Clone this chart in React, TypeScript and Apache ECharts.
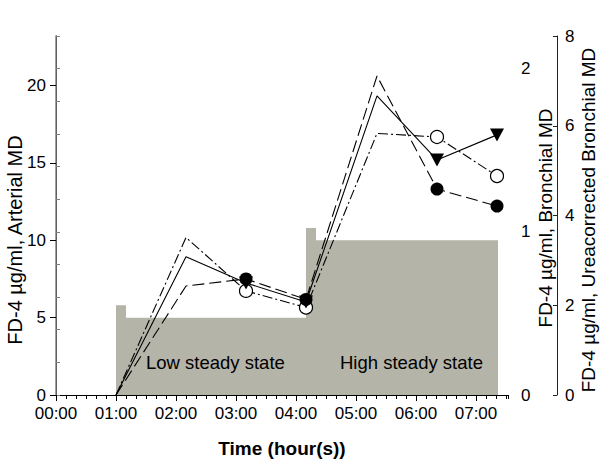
import React, { useEffect, useRef } from "react";
import * as echarts from "echarts";

// time in minutes after start
const sampleTimes = [60, 130, 190, 250, 321, 381, 441];
const arterialMD = [0, 8.94, 7.24, 6.01, 19.33, 15.19, 16.81];
const bronchialMD = [0, 0.668, 0.711, 0.586, 1.955, 1.262, 1.158];
const ureaCorrectedMD = [0, 3.51, 2.32, 1.95, 5.83, 5.75, 4.88];
const markerShown = [false, false, true, true, false, true, true];

const infusionTimes = [60, 60, 70, 70, 250, 250, 260, 260, 442, 442];
const infusionLevels = [0, 5.8, 5.8, 5, 5, 10.8, 10.8, 10, 10, 0];

const hourTicks = [0, 60, 120, 180, 240, 300, 360, 420];
const leftTicks = [0, 5, 10, 15, 20];
const middleLabels = [0, 1, 2];
const middleTicks = [0, 0.2, 0.4, 0.6, 0.8, 1, 1.2, 1.4, 1.6, 1.8, 2, 2.2];
const rightTicks = [0, 2, 4, 6, 8];

const FONT = "Liberation Sans, Arial, sans-serif";

function buildData(values: number[]) {
  return sampleTimes.map((t, i) => ({
    value: [t, values[i]],
    symbolSize: markerShown[i] ? undefined : 0,
  }));
}

function fmtTime(v: number) {
  const h = Math.round(v / 60);
  return (h < 10 ? "0" : "") + h + ":00";
}

export default function App() {
  const ref = useRef<HTMLDivElement>(null);
  useEffect(() => {
    if (!ref.current) return;
    const chart = echarts.init(ref.current, null, { renderer: "svg" });
    const labelStyle = { color: "#000", fontSize: 17, fontFamily: FONT };
    chart.setOption({
      animation: false,
      backgroundColor: "#fff",
      grid: { left: 56, right: 92, top: 36, bottom: 69 },
      xAxis: [
        {
          type: "value",
          min: 0,
          max: 452,
          interval: 60,
          name: "Time (hour(s))",
          nameLocation: "middle",
          nameGap: 44,
          nameTextStyle: { color: "#000", fontSize: 19, fontWeight: "bold", fontFamily: FONT },
          axisLine: { show: true, lineStyle: { color: "#000", width: 1 } },
          axisTick: { show: true, length: 6, lineStyle: { color: "#000" }, customValues: hourTicks },
          axisLabel: { ...labelStyle, margin: 10, formatter: fmtTime, customValues: hourTicks },
          splitLine: { show: false },
        },
        {
          type: "value",
          min: 0,
          max: 452,
          interval: 10,
          position: "bottom",
          axisLine: { show: false },
          axisTick: { show: true, length: 4, lineStyle: { color: "#000" } },
          axisLabel: { show: false },
          splitLine: { show: false },
        },
      ],
      yAxis: [
        {
          type: "value",
          min: 0,
          max: 23.2,
          position: "left",
          axisLine: { show: true, lineStyle: { color: "#000", width: 1 } },
          axisTick: { show: true, length: 6, lineStyle: { color: "#000" }, customValues: leftTicks },
          axisLabel: { ...labelStyle, margin: 10, customValues: leftTicks },
          splitLine: { show: false },
        },
        {
          type: "value",
          min: 0,
          max: 2.2,
          position: "right",
          offset: 0,
          axisLine: { show: true, lineStyle: { color: "#808080", width: 1.5 } },
          axisTick: { show: true, length: 4, lineStyle: { color: "#808080" }, customValues: middleTicks },
          axisLabel: { ...labelStyle, margin: 13, customValues: middleLabels },
          splitLine: { show: false },
        },
        {
          type: "value",
          min: 0,
          max: 8,
          position: "right",
          offset: 49,
          axisLine: { show: true, lineStyle: { color: "#222", width: 1 } },
          axisTick: { show: true, inside: true, length: 4, lineStyle: { color: "#222" }, customValues: rightTicks },
          axisLabel: { ...labelStyle, margin: 8, customValues: rightTicks },
          splitLine: { show: false },
        },
      ],
      graphic: [
        {
          type: "text",
          x: 15,
          y: 240,
          rotation: Math.PI / 2,
          style: { text: "FD-4 µg/ml, Arterial MD", fontSize: 20, fontFamily: FONT, fill: "#000", align: "center", verticalAlign: "middle" },
        },
        {
          type: "text",
          x: 545,
          y: 218,
          rotation: Math.PI / 2,
          style: { text: "FD-4 µg/ml, Bronchial MD", fontSize: 19, fontFamily: FONT, fill: "#000", align: "center", verticalAlign: "middle" },
        },
        {
          type: "text",
          x: 588,
          y: 220,
          rotation: Math.PI / 2,
          style: { text: "FD-4 µg/ml, Ureacorrected Bronchial MD", fontSize: 19, fontFamily: FONT, fill: "#000", align: "center", verticalAlign: "middle" },
        },
        {
          type: "text",
          x: 146,
          y: 362,
          z: 100,
          style: { text: "Low steady state", fontSize: 18.5, fontFamily: FONT, fill: "#000", align: "left", verticalAlign: "middle" },
        },
        {
          type: "text",
          x: 340,
          y: 362,
          z: 100,
          style: { text: "High steady state", fontSize: 18.5, fontFamily: FONT, fill: "#000", align: "left", verticalAlign: "middle" },
        },
      ],
      series: [
        {
          name: "Infusion",
          type: "line",
          xAxisIndex: 0,
          yAxisIndex: 0,
          data: infusionTimes.map((t, i) => [t, infusionLevels[i]]),
          symbol: "none",
          lineStyle: { width: 0 },
          areaStyle: { color: "#b5b4a9", opacity: 1 },
          z: 1,
          silent: true,
        },
        {
          name: "Ureacorrected bronchial",
          type: "line",
          xAxisIndex: 0,
          yAxisIndex: 2,
          data: buildData(ureaCorrectedMD),
          symbol: "circle",
          symbolSize: 13,
          itemStyle: { color: "#fff", borderColor: "#000", borderWidth: 1.2 },
          lineStyle: { color: "#000", width: 1.1, type: [10, 3, 2, 3] },
          z: 3,
        },
        {
          name: "Arterial",
          type: "line",
          xAxisIndex: 0,
          yAxisIndex: 0,
          data: buildData(arterialMD),
          symbol: "triangle",
          symbolRotate: 180,
          symbolSize: [14, 13],
          itemStyle: { color: "#000", borderWidth: 0 },
          lineStyle: { color: "#000", width: 1.1, type: "solid" },
          z: 4,
        },
        {
          name: "Bronchial",
          type: "line",
          xAxisIndex: 0,
          yAxisIndex: 1,
          data: buildData(bronchialMD),
          symbol: "circle",
          symbolSize: 13,
          itemStyle: { color: "#000", borderWidth: 0 },
          lineStyle: { color: "#000", width: 1.1, type: [12, 5] },
          z: 5,
        },
      ],
    });
    return () => chart.dispose();
  }, []);
  return <div ref={ref} style={{ width: 600, height: 464, position: "fixed", left: 0, top: 0 }} />;
}
